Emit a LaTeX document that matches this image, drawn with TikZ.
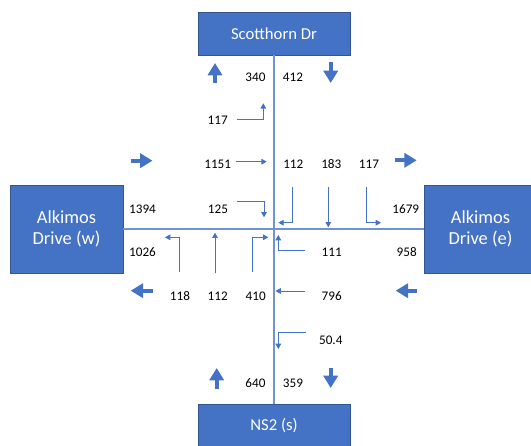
\documentclass[tikz,border=0pt]{standalone}
\usepackage{fontspec}
\setmainfont{Carlito}
\usetikzlibrary{arrows.meta}
\definecolor{boxblue}{HTML}{4472C4}
\definecolor{roadblue}{HTML}{7093D3}

\begin{document}
\begin{tikzpicture}[
    x=0.02cm, y=-0.02cm,
    road/.style={rectangle, minimum width=3.04cm, minimum height=0.86cm, inner sep=0pt, text centered, draw=boxblue!75!black, line width=0.4pt, fill=boxblue, text=white, font=\fontsize{9.5}{11}\selectfont},
    sideroad/.style={road, minimum width=2.26cm, minimum height=1.76cm, align=center, font=\fontsize{10.5}{12.3}\selectfont},
    roadline/.style={draw=roadblue, line width=0.8pt},
    count/.style={inner sep=0pt, font=\fontsize{7.5}{9}\selectfont},
    turn/.style={draw=boxblue, line width=0.5pt, -{Triangle[length=3pt,width=3.2pt]}},
    bigarrow/.style={draw=boxblue, line width=2.3pt, -{Triangle[length=7pt,width=8pt]}},
]
    \useasboundingbox (0,0) rectangle (531,446);

    % approaches
    \node (north) [road] at (274,33.5) {Scotthorn Dr};
    \node (south) [road] at (274,426) {NS2 (s)};
    \node (west) [sideroad] at (66.5,229) {Alkimos\\Drive (w)};
    \node (east) [sideroad] at (480.5,229) {Alkimos\\Drive (e)};

    \draw [roadline] (north) -- (south);
    \draw [roadline] (west) -- (east);

    % north leg
    \node (n340) [count] at (255.5,77.7) {340};
    \node (n412) [count] at (293,77.7) {412};
    \draw [bigarrow] (215,83) -- (215,63);
    \draw [bigarrow] (330.7,62) -- (330.7,83);

    % west approach
    \node (w117) [count] at (217.7,120) {117};
    \node (w1151) [count] at (217.7,164) {1151};
    \node (w125) [count] at (218,209) {125};
    \draw [turn] (237.3,119) -| (263.3,103.3);
    \draw [turn] (236,161.7) -- (266.7,161.7);
    \draw [turn] (237.3,201) -| (264,217.3);
    \draw [bigarrow] (130.7,160.7) -- (152.5,160.7);
    \node (w1394) [count] at (142.5,209) {1394};
    \node (w1026) [count] at (142.5,252.3) {1026};

    % south-bound
    \node (s112) [count] at (293.3,164) {112};
    \node (s183) [count] at (331.3,164) {183};
    \node (s117) [count] at (369,164) {117};
    \draw [turn] (292.7,187.3) |- (278.3,222.7);
    \draw [turn] (328.3,187.3) -- (328.3,227.3);
    \draw [turn] (366,187.3) |- (381,222.7);
    \draw [bigarrow] (395,160.3) -- (416.7,160.3);
    \node (e1679) [count] at (405.8,209) {1679};
    \node (e958) [count] at (406.7,252.3) {958};

    % east approach
    \node (e111) [count] at (331.7,252.3) {111};
    \node (e796) [count] at (331.7,296) {796};
    \node (e50) [count] at (330.8,340) {50.4};
    \draw [turn] (305,250) -| (278.3,235);
    \draw [turn] (305,291) -- (275.5,291);
    \draw [turn] (305.7,332.3) -| (278.3,349);
    \draw [bigarrow] (416.7,290.7) -- (395.7,290.7);

    % north-bound
    \node (n118) [count] at (180,296) {118};
    \node (n112) [count] at (217.7,296) {112};
    \node (n410) [count] at (255.7,296) {410};
    \draw [turn] (179.3,271.7) |- (165,237.3);
    \draw [turn] (215,273.3) -- (215,232.7);
    \draw [turn] (252.7,272) |- (268.3,237.3);
    \draw [bigarrow] (152.7,290.7) -- (130.7,290.7);

    % south leg
    \node (s640) [count] at (255.5,383.3) {640};
    \node (s359) [count] at (293,383.3) {359};
    \draw [bigarrow] (216.7,389) -- (216.7,368);
    \draw [bigarrow] (330.7,367.7) -- (330.7,388);

\end{tikzpicture}
\end{document}
